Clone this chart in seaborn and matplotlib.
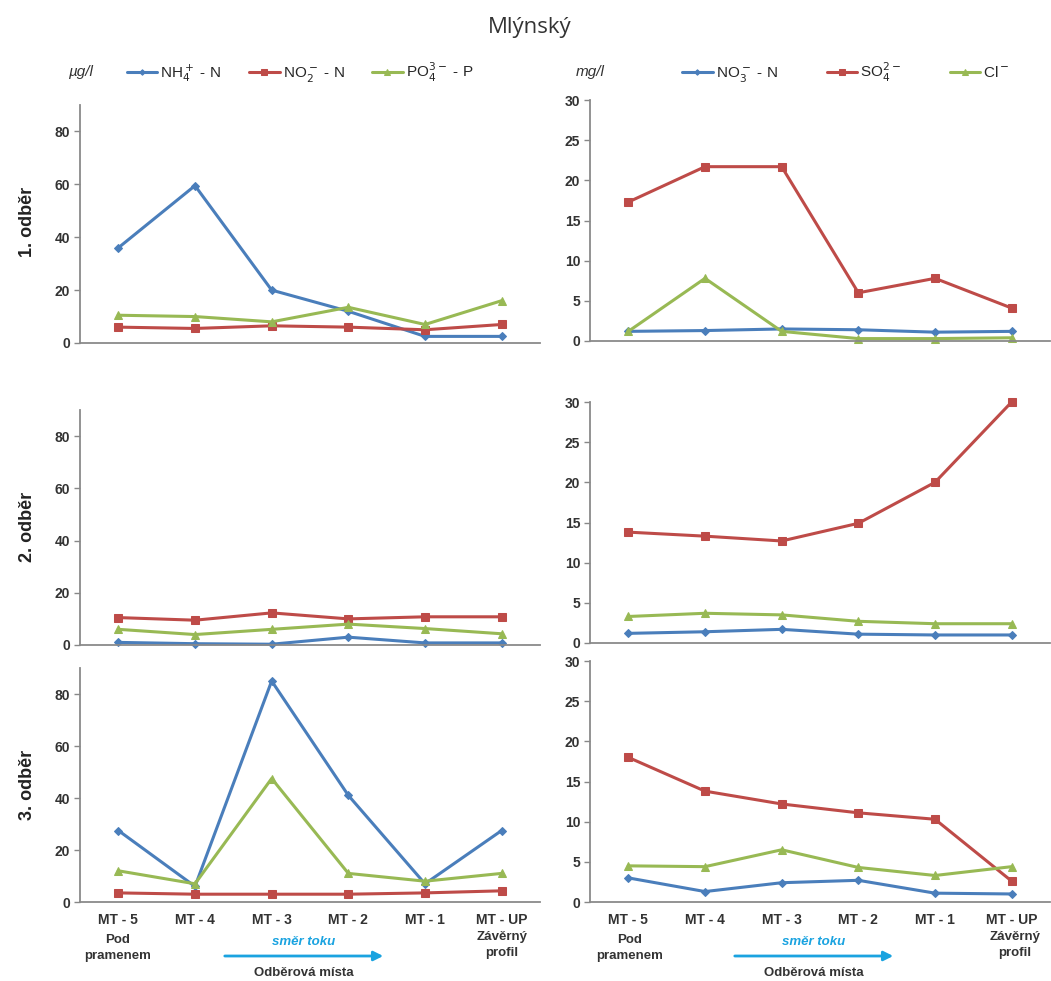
import matplotlib
matplotlib.use("Agg")
import matplotlib.pyplot as plt
import seaborn as sns
import numpy as np

sns.set_theme(style="white")
plt.rcParams["font.family"] = ["Liberation Sans", "DejaVu Sans"]

sites = ["MT - 5", "MT - 4", "MT - 3", "MT - 2", "MT - 1", "MT - UP"]
rows = ["1. odběr", "2. odběr", "3. odběr"]

# µg/l panels (left)
nh4 = [[36, 59.5, 20, 12, 2.5, 2.5],
       [1, 0.5, 0.3, 3, 0.8, 0.8],
       [27.5, 6, 85, 41, 7, 27.5]]
no2 = [[6, 5.5, 6.5, 6, 5, 7],
       [10.5, 9.5, 12.3, 10, 10.8, 10.8],
       [3.5, 3, 3, 3, 3.5, 4.3]]
po4 = [[10.5, 10, 8, 13.5, 7, 16],
       [6, 4, 6, 8, 6.3, 4.3],
       [12, 7, 47.5, 11, 8, 11]]

# mg/l panels (right)
no3 = [[1.2, 1.3, 1.5, 1.4, 1.1, 1.2],
       [1.2, 1.4, 1.7, 1.1, 1.0, 1.0],
       [3.0, 1.3, 2.4, 2.7, 1.1, 1.0]]
so4 = [[17.3, 21.7, 21.7, 6.0, 7.8, 4.1],
       [13.8, 13.3, 12.7, 14.9, 20.0, 30.0],
       [18.0, 13.8, 12.2, 11.1, 10.3, 2.6]]
cl = [[1.2, 7.8, 1.2, 0.3, 0.3, 0.4],
      [3.3, 3.7, 3.5, 2.7, 2.4, 2.4],
      [4.5, 4.4, 6.5, 4.3, 3.3, 4.4]]

left_names = [r"NH$_4^+$ - N", r"NO$_2^-$ - N", r"PO$_4^{3-}$ - P"]
right_names = [r"NO$_3^-$ - N", r"SO$_4^{2-}$", r"Cl$^-$"]

colors = ["#4a7ebb", "#be4b48", "#98b954"]
markers = ["D", "s", "^"]
msizes = [4, 6, 6]

W, H = 1051, 981
fig = plt.figure(figsize=(W / 100, H / 100), dpi=100)


def px_axes(x0, x1, y_top, y_bot):
    return fig.add_axes([x0 / W, 1 - y_bot / H, (x1 - x0) / W, (y_bot - y_top) / H])


def ftext(x, y, s, **kw):
    fig.text(x / W, 1 - y / H, s, **kw)


left_box = [(105, 343), (410, 645), (668, 902)]
right_box = [(100, 341), (402, 643), (661, 902)]

x = np.arange(len(sites))
axes_left, axes_right = [], []
for r in range(3):
    for side in ("L", "R"):
        if side == "L":
            ax = px_axes(80, 540, *left_box[r])
            series = [nh4[r], no2[r], po4[r]]
            names = left_names
            ymax, yticks = 90, [0, 20, 40, 60, 80]
            axes_left.append(ax)
        else:
            ax = px_axes(590, 1050, *right_box[r])
            series = [no3[r], so4[r], cl[r]]
            names = right_names
            ymax, yticks = 30, [0, 5, 10, 15, 20, 25, 30]
            axes_right.append(ax)
        for vals, name, c, m, ms in zip(series, names, colors, markers, msizes):
            sns.lineplot(x=x, y=vals, ax=ax, color=c, marker=m, markersize=ms,
                         markeredgecolor=c, linewidth=2.2, label=name, legend=False,
                         clip_on=False)
        ax.set_xlim(-0.5, 5.5)
        ax.set_ylim(0, ymax)
        ax.set_yticks(yticks)
        ax.tick_params(axis="y", left=True, length=4, width=1, color="#888888",
                       labelsize=10, pad=3)
        ax.tick_params(axis="x", bottom=False, labelsize=10, pad=2)
        for lab in ax.get_yticklabels():
            lab.set_fontweight("bold")
            lab.set_color("#333333")
        for s in ("top", "right"):
            ax.spines[s].set_visible(False)
        for s in ("left", "bottom"):
            ax.spines[s].set_color("#8a8a8a")
            ax.spines[s].set_linewidth(1.3)
        ax.grid(False)
        if r == 2:
            ax.set_xticks(x)
            ax.set_xticklabels(sites, fontweight="bold", color="#333333")
        else:
            ax.set_xticks([])

# row labels
for r, yc in enumerate([222, 527, 785]):
    ftext(28, yc, rows[r], rotation=90, ha="center", va="center",
          fontsize=13, fontweight="bold", color="#222222")

# title
ftext(530, 27, "Mlýnský", ha="center", va="center", fontsize=16,
      family=["Open Sans", "DejaVu Sans"], color="#333333")

# unit labels and legends
ftext(80, 72, "µg/l", ha="center", va="center", fontsize=11, style="italic", color="#333333")
ftext(590, 72, "mg/l", ha="center", va="center", fontsize=11, style="italic", color="#333333")

h, l = axes_left[0].get_legend_handles_labels()
fig.legend(h, l, loc="center", bbox_to_anchor=(300 / W, 1 - 72 / H), ncol=3,
           frameon=False, fontsize=11, handlelength=2.0, columnspacing=1.8,
           handletextpad=0.2, markerscale=0.7)
h, l = axes_right[0].get_legend_handles_labels()
fig.legend(h, l, loc="center", bbox_to_anchor=(846 / W, 1 - 72 / H), ncol=3,
           frameon=False, fontsize=11, handlelength=2.0, columnspacing=3.2,
           handletextpad=0.2, markerscale=0.7)

# annotations under the x axes
for off, xc, xu in [(0, 118, 502), (510, 630, 1015)]:
    ftext(xc, 948, "Pod\npramenem", ha="center", va="center", fontsize=9.5,
          fontweight="bold", color="#333333", linespacing=1.4)
    ftext(xu, 945, "Závěrný\nprofil", ha="center", va="center", fontsize=9.5,
          fontweight="bold", color="#333333", linespacing=1.4)
    x0, x1 = 222 + off, 386 + off
    fig.add_artist(matplotlib.patches.FancyArrowPatch(
        (x0 / W, 1 - 956 / H), (x1 / W, 1 - 956 / H), transform=fig.transFigure,
        arrowstyle="-|>", mutation_scale=14, color="#1aa3e0", linewidth=2))
    ftext((x0 + x1) / 2, 942, "směr toku", ha="center", va="center", fontsize=9.5,
          style="italic", fontweight="bold", color="#1aa3e0")
    ftext((x0 + x1) / 2, 973, "Odběrová místa", ha="center", va="center",
          fontsize=9.5, fontweight="bold", color="#333333")

fig.savefig("out.png", dpi=100, facecolor="white")
